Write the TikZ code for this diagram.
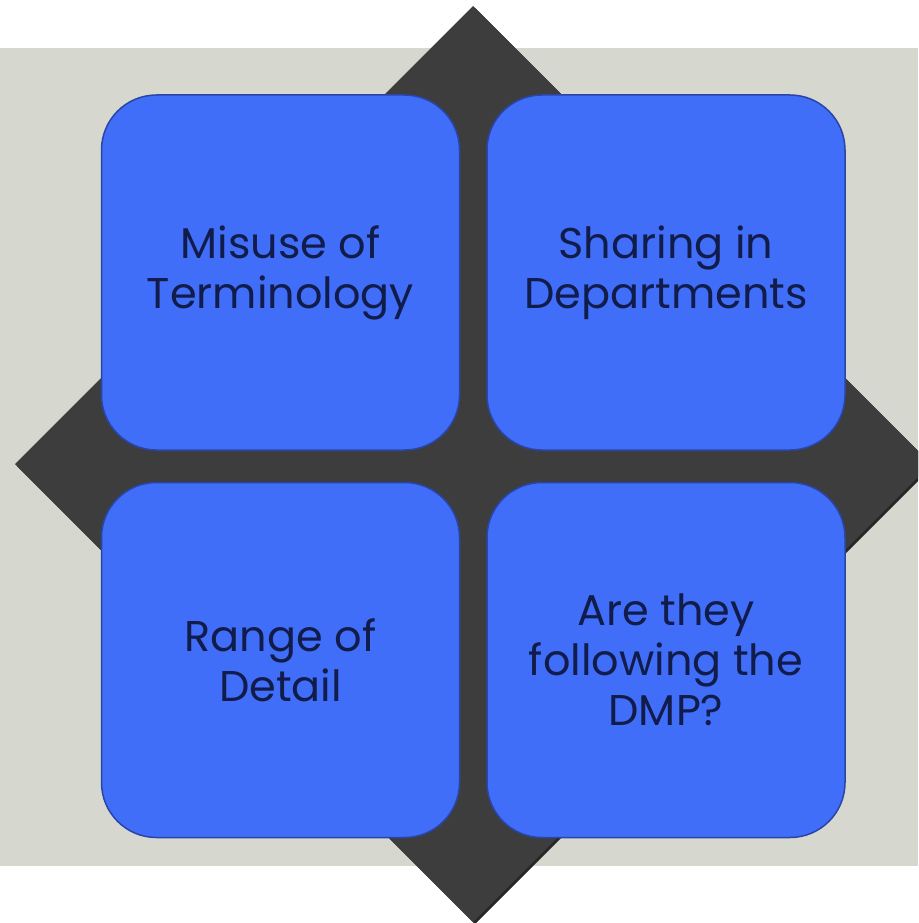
\documentclass[tikz,border=0pt]{standalone}
\usepackage{xcolor}
\usepackage{fontspec}
\setmainfont{Poppins}
\usepackage{tikz}
\usetikzlibrary{positioning}

\definecolor{panelgrey}{HTML}{D6D8D0}
\definecolor{diamondgrey}{HTML}{3D3D3D}
\definecolor{tileblue}{HTML}{406EF8}
\definecolor{tileedge}{HTML}{2A45A8}
\definecolor{tiletext}{HTML}{121C4A}

\tikzset{
	tile/.style = {rectangle, rounded corners = 55, fill = tileblue, draw = tileedge,
		line width = 1.5, minimum width = 358, minimum height = 355,
		align = center, text = tiletext, inner sep = 0,
		font = \fontsize{43}{50}\selectfont}
}

\begin{document}
\begin{tikzpicture}[
			x = 1pt, y = -1pt,
			every node/.style = {scale = 1}
			]

			\useasboundingbox (0,0) rectangle (918,923);
			\clip (0,0) rectangle (918,923);

			\fill[white] (0,0) rectangle (918,923);
			\fill[panelgrey] (0,48) rectangle (918,866);

			\fill[black!85] (475,8) -- (933,466) -- (475,924) -- (17,466) -- cycle;
			\fill[diamondgrey] (473,6) -- (931,464) -- (473,922) -- (15,464) -- cycle;

			\node[tile] (misuse) at (280.5,272.5) {Misuse of\\Terminology};
			\node[tile] (sharing) at (666,272.5) {Sharing in\\Departments};
			\node[tile] (range) at (280.5,660) {Range of\\Detail};
			\node[tile] (dmp) at (666,660) {Are they\\following the\\DMP?};

		\end{tikzpicture}
\end{document}
